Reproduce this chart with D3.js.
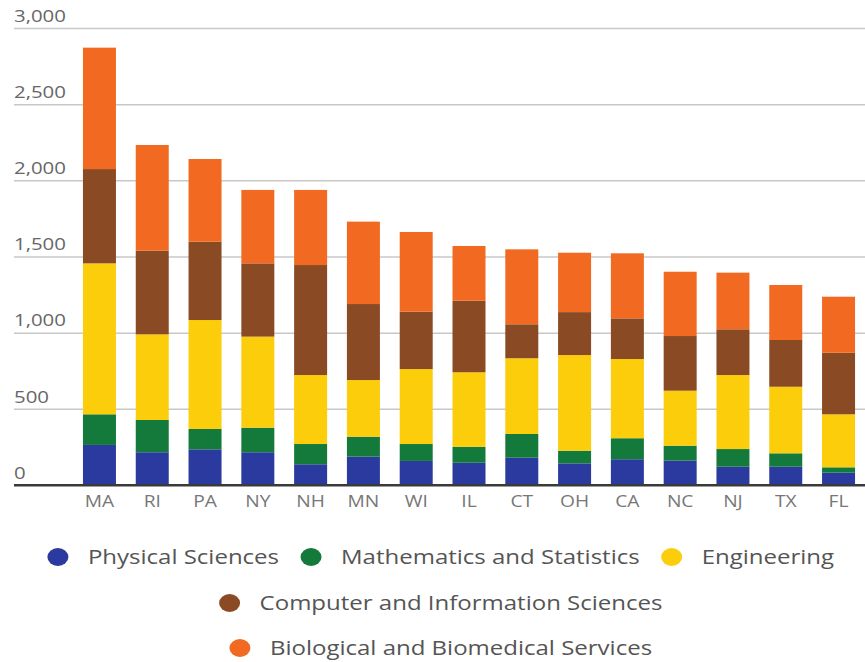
<!DOCTYPE html>
<html>
<head>
<meta charset="utf-8">
<script src="https://cdn.jsdelivr.net/npm/d3@7"></script>
<style>
  html, body { margin: 0; padding: 0; background: #fff; }
  svg { display: block; font-family: "Open Sans", sans-serif; }
</style>
</head>
<body>
<svg id="chart" width="865" height="662"></svg>
<script>
// Degrees by state, split by field
const states = ["MA", "RI", "PA", "NY", "NH", "MN", "WI", "IL", "CT", "OH", "CA", "NC", "NJ", "TX", "FL"];
const physicalSciences = [263, 215, 234, 215, 136, 186, 158, 146, 179, 142, 169, 160, 120, 120, 81];
const mathStats        = [201, 212, 134, 161, 133, 131, 111, 105, 156, 83, 138, 98, 116, 88, 35];
const engineering      = [991, 562, 715, 598, 453, 372, 492, 489, 497, 628, 520, 361, 486, 437, 348];
const computerInfo     = [619, 549, 514, 481, 722, 499, 377, 470, 223, 282, 267, 359, 300, 307, 404];
const biological       = [797, 694, 543, 482, 493, 541, 523, 359, 492, 390, 427, 422, 372, 361, 368];
const yTicks = [0, 500, 1000, 1500, 2000, 2500, 3000];

const seriesNames = [
  "Physical Sciences",
  "Mathematics and Statistics",
  "Engineering",
  "Computer and Information Sciences",
  "Biological and Biomedical Services"
];
const seriesColors = ["#2b3a9e", "#147a3b", "#fbcd0b", "#8a4b24", "#f26a21"];
const seriesValues = [physicalSciences, mathStats, engineering, computerInfo, biological];

// Text is drawn a little wider than the font's natural proportions
const STRETCH = 1.2;
function widen(sel) {
  sel.each(function () {
    const w = this.getComputedTextLength();
    d3.select(this).attr("textLength", w * STRETCH).attr("lengthAdjust", "spacingAndGlyphs");
  });
}

const svg = d3.select("#chart");

const rows = states.map((s, i) => {
  const r = { state: s };
  seriesNames.forEach((n, j) => { r[n] = seriesValues[j][i]; });
  return r;
});
const stacked = d3.stack().keys(seriesNames)(rows);

const x = d3.scaleBand()
  .domain(states)
  .range([72.4, 865.6])
  .paddingInner(0.375)
  .paddingOuter(0.2);

const y = d3.scaleLinear().domain([0, 3000]).range([485, 28]);

// Horizontal gridlines with labels sitting above them
const yAxis = d3.axisLeft(y)
  .tickValues(yTicks)
  .tickSize(0)
  .tickFormat(d3.format(","));

const gy = svg.append("g").attr("transform", "translate(14,0)").call(yAxis);
gy.select(".domain").remove();
gy.selectAll(".tick line")
  .attr("x1", 0)
  .attr("x2", 851)
  .attr("stroke", d => d === 0 ? "#3a3a3a" : "#c8c8c8")
  .attr("stroke-width", d => d === 0 ? 2 : 1.5);
gy.selectAll(".tick text")
  .attr("x", 0)
  .attr("dy", "-0.4em")
  .attr("text-anchor", "start")
  .attr("fill", "#666")
  .attr("font-size", 17)
  .attr("font-family", "Open Sans, sans-serif")
  .call(widen);

// Stacked bars
svg.append("g")
  .selectAll("g")
  .data(stacked)
  .join("g")
  .attr("fill", (d, i) => seriesColors[i])
  .selectAll("rect")
  .data(d => d)
  .join("rect")
  .attr("x", d => x(d.data.state))
  .attr("width", x.bandwidth())
  .attr("y", d => y(d[1]))
  .attr("height", d => y(d[0]) - y(d[1]));

// Redraw the baseline over the bar bottoms
svg.append("line")
  .attr("x1", 14).attr("x2", 865)
  .attr("y1", y(0)).attr("y2", y(0))
  .attr("stroke", "#3a3a3a").attr("stroke-width", 2);

// State labels
const xAxis = d3.axisBottom(x).tickSize(0).tickPadding(11);
const gx = svg.append("g").attr("transform", `translate(0,${y(0)})`).call(xAxis);
gx.select(".domain").remove();
gx.selectAll(".tick text")
  .attr("fill", "#777")
  .attr("font-size", 16)
  .attr("font-family", "Open Sans, sans-serif")
  .call(widen);

// Legend: three centred rows
const legendRows = [[0, 1, 2], [3], [4]];
const legendY = [557, 603, 648];
const legendCenter = 441;
const legend = svg.append("g").attr("font-size", 20).attr("fill", "#555");

legendRows.forEach((items, r) => {
  const row = legend.append("g");
  let cursor = 0;
  items.forEach((k, idx) => {
    const item = row.append("g");
    item.append("ellipse")
      .attr("cx", cursor + 10).attr("cy", legendY[r])
      .attr("rx", 10.5).attr("ry", 9)
      .attr("fill", seriesColors[k]);
    const t = item.append("text")
      .attr("x", cursor + 40)
      .attr("y", legendY[r])
      .attr("dy", "0.35em")
      .text(seriesNames[k])
      .call(widen);
    const w = +t.attr("textLength");
    cursor += 40 + w + (idx < items.length - 1 ? 22 : 0);
  });
  row.attr("transform", `translate(${legendCenter - cursor / 2},0)`);
});
</script>
</body>
</html>
